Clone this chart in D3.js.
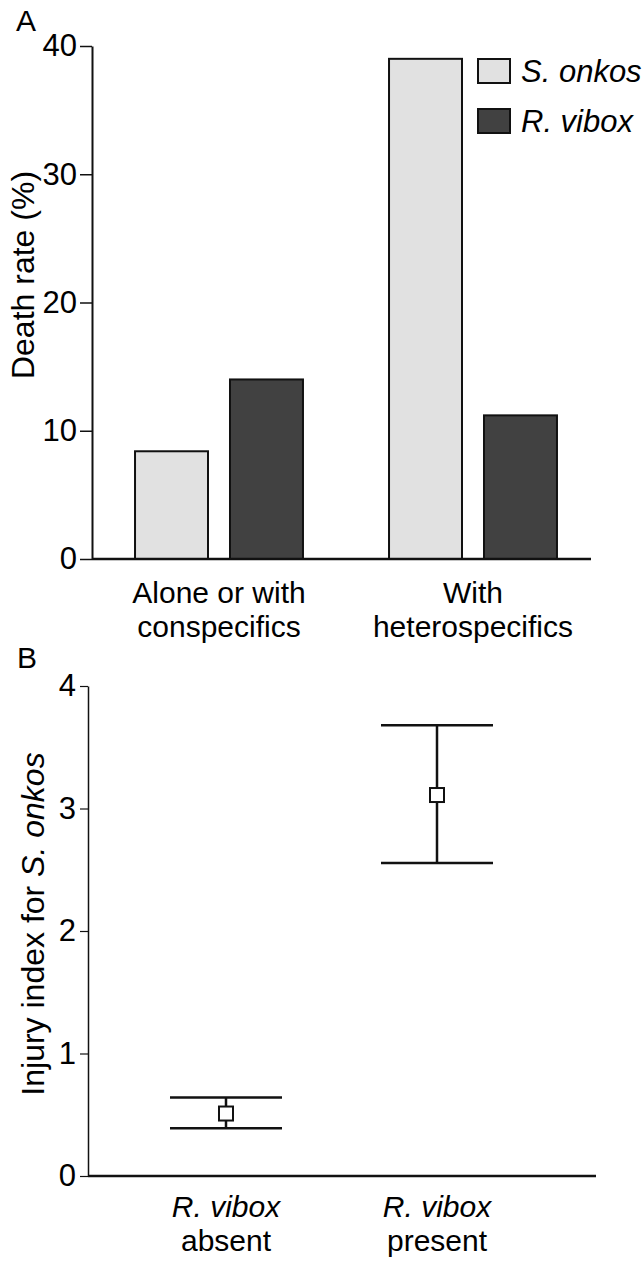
<!DOCTYPE html>
<html>
<head>
<meta charset="utf-8">
<script src="https://cdn.jsdelivr.net/npm/d3@7"></script>
<style>
  html, body { margin: 0; padding: 0; background: #fff; }
  svg { display: block; font-family: "Liberation Sans", Arial, Helvetica, sans-serif; }
</style>
</head>
<body>
<svg id="fig" width="644" height="1262"></svg>
<script>
// Panel A: death rate by social context
const groups = ["Alone or with conspecifics", "With heterospecifics"];
const groupLines = [["Alone or with", "conspecifics"], ["With", "heterospecifics"]];
const species = ["S. onkos", "R. vibox"];
const deathSOnkos = [8.4, 39];
const deathRVibox = [14, 11.2];
const deathTicks = [0, 10, 20, 30, 40];

// Panel B: injury index for S. onkos (mean with upper/lower bounds)
const conditions = ["R. vibox absent", "R. vibox present"];
const conditionLines = [["R. vibox", "absent"], ["R. vibox", "present"]];
const injuryMean = [0.51, 3.11];
const injuryLow = [0.39, 2.555];
const injuryHigh = [0.64, 3.68];
const injuryTicks = [0, 1, 2, 3, 4];

const fillColors = ["#e1e1e1", "#414141"];
const svg = d3.select("#fig");
const ink = "#111";
const FONT = "Liberation Sans, Arial, sans-serif";

// ---------- Panel A ----------
const A = { left: 92, right: 600, top: 46, bottom: 559 };
const yA = d3.scaleLinear().domain([0, 40]).range([A.bottom, A.top]);
const x0 = d3.scaleBand().domain(groups).range([A.left, A.right]);
const x1 = d3.scaleBand().domain(species).range([0, x0.bandwidth()])
  .paddingInner(0.2316).paddingOuter(0.453);

const gA = svg.append("g");
const rows = groups.map((g, i) => ({ group: g, values: [deathSOnkos[i], deathRVibox[i]] }));

gA.selectAll("g.grp").data(rows).join("g")
  .attr("class", "grp")
  .attr("transform", d => `translate(${x0(d.group)},0)`)
  .selectAll("rect").data(d => d.values.map((v, k) => ({ sp: species[k], v, k })))
  .join("rect")
  .attr("x", d => x1(d.sp))
  .attr("width", x1.bandwidth())
  .attr("y", d => yA(d.v))
  .attr("height", d => yA(0) - yA(d.v))
  .attr("fill", d => fillColors[d.k])
  .attr("stroke", ink)
  .attr("stroke-width", 2);

const axA = gA.append("g").attr("transform", `translate(${A.left},0)`)
  .call(d3.axisLeft(yA).tickValues(deathTicks).tickSize(12).tickSizeOuter(0).tickPadding(3));
axA.select(".domain").attr("stroke", ink).attr("stroke-width", 2);
axA.selectAll(".tick line").attr("stroke", ink).attr("stroke-width", 1.5);
axA.selectAll(".tick text").attr("font-size", 31).attr("fill", "#000").attr("font-family", FONT);

// baseline
gA.append("line").attr("x1", A.left).attr("x2", 591)
  .attr("y1", yA(0)).attr("y2", yA(0)).attr("stroke", ink).attr("stroke-width", 2.5);

// category labels
groups.forEach((g, i) => {
  const t = gA.append("text").attr("text-anchor", "middle").attr("font-size", 30)
    .attr("x", x0(g) + x0.bandwidth() / 2).attr("y", 603);
  groupLines[i].forEach((ln, j) => t.append("tspan")
    .attr("x", x0(g) + x0.bandwidth() / 2).attr("dy", j === 0 ? 0 : 34).text(ln));
});

// y title
gA.append("text").attr("transform", `translate(34,275) rotate(-90)`)
  .attr("text-anchor", "middle").attr("font-size", 32).text("Death rate (%)");

// panel letter
svg.append("text").attr("x", 16).attr("y", 31).attr("font-size", 30).text("A");

// legend
const leg = gA.append("g");
species.forEach((s, k) => {
  const yy = 59 + k * 50;
  leg.append("rect").attr("x", 478).attr("y", yy).attr("width", 32).attr("height", 24)
    .attr("fill", fillColors[k]).attr("stroke", ink).attr("stroke-width", 2);
  leg.append("text").attr("x", 521).attr("y", yy + 23).attr("font-size", 31)
    .attr("font-style", "italic").text(s);
});

// ---------- Panel B ----------
const B = { left: 88, right: 596, top: 686, bottom: 1176 };
const yB = d3.scaleLinear().domain([0, 4]).range([B.bottom, B.top]);
const xB = d3.scalePoint().domain(conditions).range([B.left, 575]).padding(0.654);
const gB = svg.append("g");

const axB = gB.append("g").attr("transform", `translate(${B.left},0)`)
  .call(d3.axisLeft(yB).tickValues(injuryTicks).tickFormat(d3.format("d"))
    .tickSize(8).tickSizeOuter(0).tickPadding(4));
axB.select(".domain").attr("stroke", ink).attr("stroke-width", 1.5);
axB.selectAll(".tick line").attr("stroke", ink).attr("stroke-width", 1.2);
axB.selectAll(".tick text").attr("font-size", 31).attr("fill", "#000").attr("font-family", FONT);

gB.append("line").attr("x1", B.left).attr("x2", B.right)
  .attr("y1", yB(0)).attr("y2", yB(0)).attr("stroke", ink).attr("stroke-width", 2.5);

const pts = conditions.map((c, i) => ({ c, m: injuryMean[i], lo: injuryLow[i], hi: injuryHigh[i] }));
const capHalf = 56;
const eb = gB.selectAll("g.eb").data(pts).join("g").attr("class", "eb");
eb.append("line").attr("x1", d => xB(d.c)).attr("x2", d => xB(d.c))
  .attr("y1", d => yB(d.hi)).attr("y2", d => yB(d.lo))
  .attr("stroke", ink).attr("stroke-width", 2.5);
eb.append("line").attr("x1", d => xB(d.c) - capHalf).attr("x2", d => xB(d.c) + capHalf)
  .attr("y1", d => yB(d.hi)).attr("y2", d => yB(d.hi))
  .attr("stroke", ink).attr("stroke-width", 2.5);
eb.append("line").attr("x1", d => xB(d.c) - capHalf).attr("x2", d => xB(d.c) + capHalf)
  .attr("y1", d => yB(d.lo)).attr("y2", d => yB(d.lo))
  .attr("stroke", ink).attr("stroke-width", 2.5);
eb.append("rect").attr("x", d => xB(d.c) - 7).attr("y", d => yB(d.m) - 7)
  .attr("width", 14).attr("height", 14)
  .attr("fill", "#fff").attr("stroke", ink).attr("stroke-width", 2);

conditions.forEach((c, i) => {
  gB.append("text").attr("text-anchor", "middle").attr("font-size", 30)
    .attr("font-style", "italic").attr("x", xB(c)).attr("y", 1217).text(conditionLines[i][0]);
  gB.append("text").attr("text-anchor", "middle").attr("font-size", 30)
    .attr("x", xB(c)).attr("y", 1251).text(conditionLines[i][1]);
});

const titleB = gB.append("text")
  .attr("transform", `translate(44,924) rotate(-90)`)
  .attr("text-anchor", "middle").attr("font-size", 32);
titleB.append("tspan").text("Injury index for ");
titleB.append("tspan").attr("font-style", "italic").text("S. onkos");

svg.append("text").attr("x", 17).attr("y", 668).attr("font-size", 30).text("B");
</script>
</body>
</html>
